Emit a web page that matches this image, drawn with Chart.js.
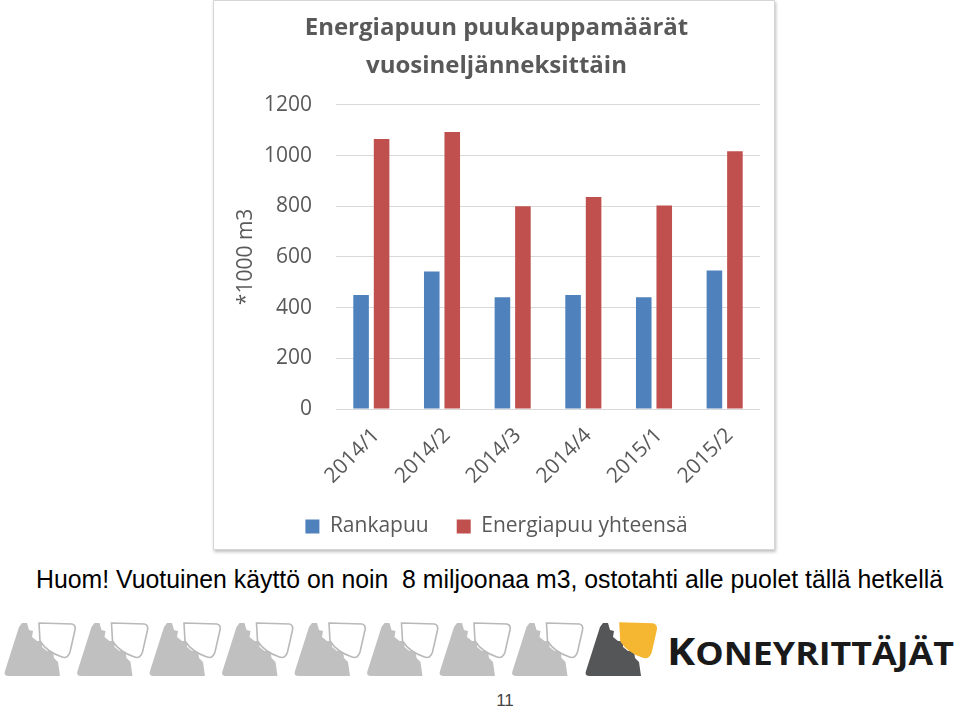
<!DOCTYPE html>
<html>
<head>
<meta charset="utf-8">
<script src="https://cdn.jsdelivr.net/npm/chart.js@4/dist/chart.umd.min.js"></script>
<style>
  html, body { margin: 0; padding: 0; background: #fff; width: 960px; height: 708px; overflow: hidden; }
  #box { position: absolute; left: 213px; top: 0px; width: 560px; height: 548px;
         border: 1px solid #d6d6d6; box-shadow: 1px 2px 3px rgba(0,0,0,0.25); background: #fff; }
  #chart { display: block; }
  #note { position: absolute; left: 36px; top: 565px; font-family: "Liberation Sans Narrow", "Liberation Sans", Arial, sans-serif;
          font-size: 25px; color: #000; white-space: pre; transform-origin: 0 0; }
  #logo { position: absolute; left: 0; top: 615px; }
  #brand { position: absolute; left: 667px; top: 631px; font-family: "Open Sans", sans-serif; font-weight: 700;
           color: #1a1a1a; white-space: pre; transform-origin: 0 0; line-height: 1; }
  #brand .big { font-size: 38px; }
  #brand .small { font-size: 32px; }
  #page { position: absolute; left: 0; width: 1010px; top: 691px; text-align: center; font-family: "Liberation Sans Narrow", "Liberation Sans", sans-serif;
          font-size: 17px; color: #444; }
</style>
</head>
<body>
<div id="box"><canvas id="chart" width="560" height="548"></canvas></div>
<div id="note">Huom! Vuotuinen käyttö on noin  8 miljoonaa m3, ostotahti alle puolet tällä hetkellä</div>
<svg id="logo" width="660" height="70" xmlns="http://www.w3.org/2000/svg"></svg>
<div id="brand"><span class="big">K</span><span class="small">ONEYRITTÄJÄT</span></div>
<div id="page">11</div>
<script>
const chartTitle = ['Energiapuun puukauppamäärät', 'vuosineljänneksittäin'];
const quarters = ['2014/1', '2014/2', '2014/3', '2014/4', '2015/1', '2015/2'];
const rankapuu = [450, 542, 441, 450, 441, 546];
const energiapuuYhteensa = [1065, 1093, 800, 836, 803, 1017];
const yTicks = [0, 200, 400, 600, 800, 1000, 1200];

const textGray = '#595959';
const font = 'Open Sans';

new Chart(document.getElementById('chart'), {
  type: 'bar',
  data: {
    labels: quarters,
    datasets: [
      { label: 'Rankapuu', data: rankapuu, backgroundColor: '#4F81BD' },
      { label: 'Energiapuu yhteensä', data: energiapuuYhteensa, backgroundColor: '#C0504D' }
    ]
  },
  options: {
    responsive: false,
    animation: false,
    devicePixelRatio: 1,
    layout: { padding: { left: 19, right: 14, top: 0, bottom: 2 } },
    datasets: { bar: { barPercentage: 0.76, categoryPercentage: 0.58 } },
    plugins: {
      title: {
        display: true,
        text: chartTitle,
        color: textGray,
        font: { family: font, size: 24, weight: 'bold', lineHeight: 1.58 },
        padding: { top: 8, bottom: 20 }
      },
      legend: {
        position: 'bottom',
        labels: {
          color: textGray,
          font: { family: font, size: 21 },
          boxWidth: 14, boxHeight: 14,
          padding: 28
        }
      },
      tooltip: { enabled: false }
    },
    scales: {
      x: {
        grid: { display: false },
        border: { display: false },
        ticks: { color: textGray, font: { family: font, size: 21 }, minRotation: 45, maxRotation: 45, padding: 6, labelOffset: 5 },
        afterFit: (s) => { s.height = 79; }
      },
      y: {
        min: 0, max: 1200,
        afterBuildTicks: (s) => { s.ticks = yTicks.map(v => ({ value: v })); },
        grid: { color: '#d9d9d9', drawTicks: false },
        border: { display: false },
        ticks: { color: textGray, font: { family: font, size: 21 }, padding: 24, callback: (v) => String(v) },
        title: { display: true, text: '*1000 m3', color: textGray, font: { family: font, size: 21 }, padding: 0 },
        afterFit: (s) => { s.width = 103; }
      }
    }
  }
});

// logo strip
const svg = document.getElementById('logo');
function unit(x0, fillA, strokeB, fillB) {
  const g = document.createElementNS('http://www.w3.org/2000/svg', 'g');
  g.setAttribute('transform', 'translate(' + x0 + ',0)');
  g.innerHTML =
    '<path d="M20 8 L25 8 L27 15 L31 16 L30 22 L35 26 L40 26 L40 32 L45 36 L51 36 L52 43 L56 47 L58 61 L7 61 Q1 61 3 56 L17 12 Z" fill="' + fillA + '"/>' +
    '<path d="M37 8 L70 9 Q74 10 73 15 L68 37 Q66 44 60 42 Q45 37 38 26 Z" fill="' + fillB + '" stroke="' + strokeB + '" stroke-width="1.6"/>';
  svg.appendChild(g);
}
for (let i = 0; i < 8; i++) unit(2 + i * 72.5, '#bfc0bf', '#b8b9b8', '#fff');
unit(583, '#555657', '#F5B731', '#F5B731');

// fit the footnote and brand to their widths in the slide
const note = document.getElementById('note');
note.style.transform = 'scaleX(' + (907 / note.getBoundingClientRect().width) + ')';
const brand = document.getElementById('brand');
brand.style.transform = 'scaleX(' + (287 / brand.getBoundingClientRect().width) + ')';
</script>
</body>
</html>
